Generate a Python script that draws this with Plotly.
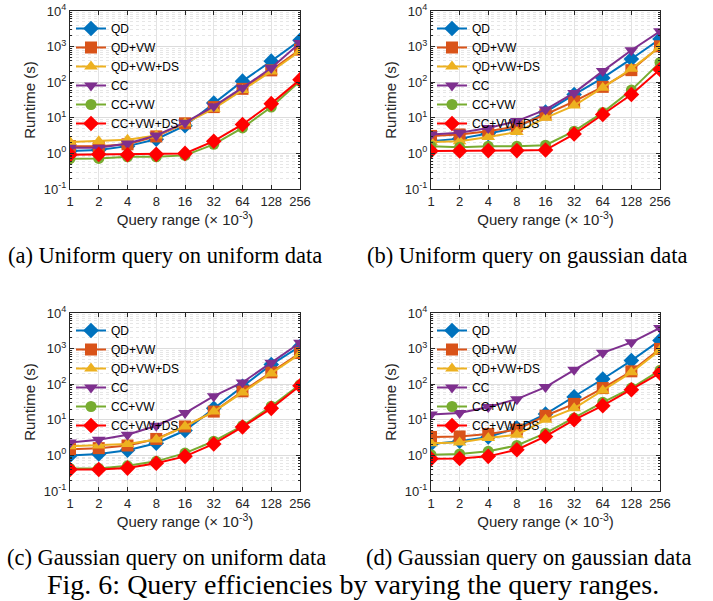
import plotly.graph_objects as go

query_range = [1, 2, 4, 8, 16, 32, 64, 128, 256]
series_names = ["QD", "QD+VW", "QD+VW+DS", "CC", "CC+VW", "CC+VW+DS"]

# (a) Uniform query on uniform data
a_QD = [1.17, 1.24, 1.6, 2.5, 6.0, 26, 107, 390, 1500]
a_QD_VW = [1.6, 1.6, 1.8, 3.0, 7.0, 20, 65, 215, 820]
a_QD_VW_DS = [2.1, 2.2, 2.4, 3.2, 7.0, 18, 60, 200, 750]
a_CC = [1.45, 1.45, 1.9, 3.2, 7.3, 21, 70, 250, 1270]
a_CC_VW = [0.71, 0.72, 0.8, 0.8, 0.88, 1.8, 5.2, 20, 107]
a_CC_VW_DS = [0.92, 0.94, 0.92, 0.94, 1.0, 2.2, 6.5, 25, 118]

# (b) Uniform query on gaussian data
b_QD = [2.2, 2.6, 3.6, 5.2, 14.4, 45, 132, 450, 1630]
b_QD_VW = [3.1, 3.4, 4.2, 5.8, 12.4, 29, 74, 218, 1020]
b_QD_VW_DS = [2.1, 2.2, 2.9, 4.0, 10, 22, 70, 237, 980]
b_CC = [3.4, 3.8, 5.2, 8.1, 17, 50, 205, 790, 2700]
b_CC_VW = [1.6, 1.5, 1.6, 1.6, 1.7, 4.2, 14, 60, 360]
b_CC_VW_DS = [1.17, 1.17, 1.2, 1.2, 1.24, 3.5, 12.4, 45, 228]

# (c) Gaussian query on uniform data
c_QD = [1.0, 1.1, 1.4, 2.2, 5.0, 21, 87, 355, 1150]
c_QD_VW = [1.5, 1.6, 1.9, 2.9, 6.5, 17, 63, 215, 750]
c_QD_VW_DS = [1.8, 1.9, 2.1, 2.8, 6.5, 17, 58, 200, 700]
c_CC = [2.3, 2.75, 3.8, 6.8, 15.5, 46, 112, 400, 1450]
c_CC_VW = [0.43, 0.43, 0.51, 0.68, 1.16, 2.5, 6.8, 24, 97]
c_CC_VW_DS = [0.4, 0.4, 0.44, 0.6, 0.94, 2.1, 6.3, 21, 90]

# (d) Gaussian query on gaussian data
d_QD = [2.1, 2.5, 3.3, 5.9, 14.5, 44, 140, 460, 1700]
d_QD_VW = [3.3, 3.4, 4.0, 5.3, 13, 28, 78, 230, 980]
d_QD_VW_DS = [2.2, 2.3, 3.1, 3.8, 10, 21, 67, 215, 900]
d_CC = [14, 15.5, 23, 38, 83, 255, 760, 1500, 3800]
d_CC_VW = [1.05, 1.1, 1.3, 1.9, 4.2, 11.2, 31, 78, 245]
d_CC_VW_DS = [0.8, 0.82, 0.94, 1.44, 3.4, 10, 25, 70, 205]

panels = [
    [a_QD, a_QD_VW, a_QD_VW_DS, a_CC, a_CC_VW, a_CC_VW_DS],
    [b_QD, b_QD_VW, b_QD_VW_DS, b_CC, b_CC_VW, b_CC_VW_DS],
    [c_QD, c_QD_VW, c_QD_VW_DS, c_CC, c_CC_VW, c_CC_VW_DS],
    [d_QD, d_QD_VW, d_QD_VW_DS, d_CC, d_CC_VW, d_CC_VW_DS],
]
captions = [
    "(a) Uniform query on uniform data",
    "(b) Uniform query on gaussian data",
    "(c) Gaussian query on uniform data",
    "(d) Gaussian query on gaussian data",
]
fig_caption = "Fig. 6: Query efficiencies by varying the query ranges."

y_tickvals = [0.1, 1, 10, 100, 1000, 10000]
y_ticktext = ["10<sup>-1</sup>", "10<sup>0</sup>", "10<sup>1</sup>",
              "10<sup>2</sup>", "10<sup>3</sup>", "10<sup>4</sup>"]

colors = ["#0072BD", "#D95319", "#EDB120", "#7E2F8E", "#77AC30", "#FF0000"]
symbols = ["diamond", "square", "triangle-up", "triangle-down", "circle", "diamond"]

W, H = 713, 601
# pixel boxes of plot areas (left, right, top, bottom)
boxes = [(70, 300, 11, 189), (431, 660, 11, 189),
         (70, 300, 313, 491), (431, 660, 313, 491)]
cap_pos = [(165, 255), (527, 255), (166, 557), (529, 557)]

fig = go.Figure()
axfont = dict(family="Liberation Sans, Arial", size=13, color="#262626")
titlefont = dict(family="Liberation Sans, Arial", size=15, color="#262626")

for i, data in enumerate(panels):
    n = "" if i == 0 else str(i + 1)
    lg = "legend" if i == 0 else f"legend{i + 1}"
    for j, vals in enumerate(data):
        fig.add_trace(go.Scatter(
            x=query_range, y=vals, name=series_names[j], mode="lines+markers",
            line=dict(color=colors[j], width=2),
            marker=dict(symbol=symbols[j], size=12 if symbols[j] != "circle" else 11,
                        color=colors[j], line=dict(width=0)),
            xaxis="x" + n, yaxis="y" + n, legend=lg, showlegend=True,
        ))
    l, r, t, b = boxes[i]
    xd = [l / W, r / W]
    yd = [1 - b / H, 1 - t / H]
    fig.update_layout(**{
        "xaxis" + n: dict(
            domain=xd, anchor="y" + n, type="log", automargin=False,
            range=[0, 2.40824], tickvals=query_range,
            ticktext=[str(v) for v in query_range],
            showgrid=True, gridcolor="#e3e3e3", gridwidth=1,
            showline=True, linecolor="#262626", linewidth=1, mirror="ticks",
            ticks="inside", ticklen=4, tickcolor="#262626",
            tickfont=axfont, zeroline=False,
            title=dict(text="Query range (× 10<sup>-3</sup>)", font=titlefont, standoff=6),
        ),
        "yaxis" + n: dict(
            domain=yd, anchor="x" + n, type="log", automargin=False,
            range=[-1, 4], tickvals=y_tickvals, ticktext=y_ticktext,
            showgrid=True, gridcolor="#dcdcdc", gridwidth=1,
            showline=True, linecolor="#262626", linewidth=1, mirror="ticks",
            ticks="inside", ticklen=4, tickcolor="#262626",
            tickfont=axfont, zeroline=False,
            minor=dict(dtick="D1", showgrid=True, gridcolor="#e6e6e6",
                       griddash="dot", ticks="inside", ticklen=2, tickcolor="#262626"),
            title=dict(text="Runtime (s)", font=titlefont, standoff=4),
        ),
        lg: dict(
            x=(l + 1) / W, y=1 - (t + 3) / H, xanchor="left", yanchor="top",
            bgcolor="rgba(255,255,255,0)", borderwidth=0,
            font=dict(family="Liberation Sans, Arial", size=12, color="#000000"),
            itemwidth=30, tracegroupgap=0,
        ),
    })
    cx, cy = cap_pos[i]
    fig.add_annotation(text=captions[i], x=cx / W, y=1 - cy / H, xref="paper", yref="paper",
                       showarrow=False, xanchor="center", yanchor="middle",
                       font=dict(family="Liberation Serif, Times New Roman", size=22.5, color="#000"))

fig.add_annotation(text=fig_caption, x=353 / W, y=1 - 584 / H, xref="paper", yref="paper",
                   showarrow=False, xanchor="center", yanchor="middle",
                   font=dict(family="Liberation Serif, Times New Roman", size=28, color="#000"))

fig.update_layout(width=W, height=H, margin=dict(l=0, r=0, t=0, b=0, autoexpand=False),
                  paper_bgcolor="white", plot_bgcolor="white")
fig.write_html("out.html", config={"displayModeBar": False},
               post_script="document.body.style.margin='0';document.body.style.padding='0';")
